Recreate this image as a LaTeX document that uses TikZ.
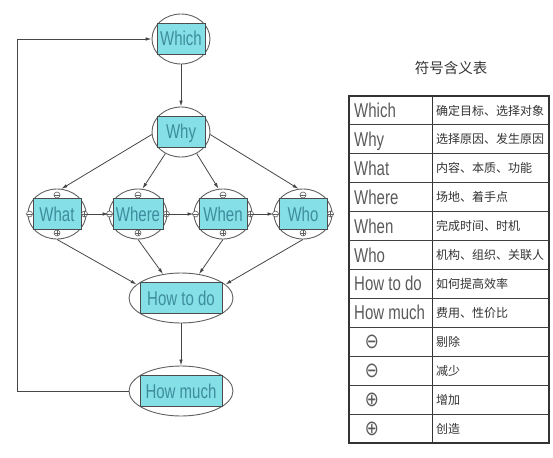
\documentclass[tikz,border=0pt]{standalone}
\usepackage{fontspec}
\setmainfont{Liberation Sans}
\newfontfamily\cadfont[FakeStretch=0.75]{Liberation Sans}
\newfontfamily\cjk{Noto Sans CJK SC}
\newfontfamily\symfont[FakeStretch=0.8]{DejaVu Sans}
\usepackage{xcolor}
\usepackage{tikz}
\usetikzlibrary{
    positioning,
    arrows.meta,
    shapes.geometric
}

\definecolor{boxfill}{RGB}{132,224,230}
\definecolor{boxtext}{RGB}{62,140,158}
\definecolor{rimgray}{RGB}{95,95,95}
\definecolor{linegray}{RGB}{70,70,70}
\definecolor{keygray}{RGB}{90,90,90}

\begin{document}
\begin{tikzpicture}[
    x=1pt, y=-1pt,
    oval/.style={
        ellipse,
        draw=rimgray,
        line width=0.9pt,
        minimum width=58pt,
        minimum height=50pt,
        inner sep=0pt
    },
    wideoval/.style={oval, minimum width=104pt},
    qbox/.style={
        rectangle,
        draw=black!70,
        fill=boxfill,
        text=boxtext,
        font=\cadfont\fontsize{20}{20}\selectfont,
        inner sep=0pt,
        text height=14pt,
        text depth=0pt,
        minimum width=48pt,
        minimum height=31pt
    },
    wideqbox/.style={qbox, minimum width=82pt},
    msym/.style={
        circle, draw=rimgray, fill=white, line width=0.6pt,
        inner sep=0pt, minimum size=6pt,
        path picture={\draw[rimgray, line width=0.5pt]
            (path picture bounding box.west) -- (path picture bounding box.east);}
    },
    psym/.style={
        msym,
        path picture={\draw[rimgray, line width=0.5pt]
            (path picture bounding box.west) -- (path picture bounding box.east)
            (path picture bounding box.north) -- (path picture bounding box.south);}
    },
    keytext/.style={text=keygray, font=\cadfont\fontsize{20}{20}\selectfont, inner sep=0pt},
    valtext/.style={text=black!80, font=\cjk\fontsize{12}{12}\selectfont, inner sep=0pt},
    arrow/.style={-{Latex[length=6pt,width=3.5pt]}, draw=linegray, line width=0.8pt}
]
\useasboundingbox (0,0) rectangle (553,457);

% flow chart
\node[oval] (which) at (181,39) {};
\node[qbox] (whichbox) at (which) {Which};

\node[oval] (why) at (181,132) {};
\node[qbox] (whybox) at (why) {Why};

\node[oval] (what) at (57,214) {};
\node[qbox] (whatbox) at (what) {What};

\node[oval] (where) at (138,214) {};
\node[qbox, minimum width=50pt] (wherebox) at (where) {Where};

\node[oval] (when) at (223,214) {};
\node[qbox] (whenbox) at (when) {When};

\node[oval] (who) at (303,214) {};
\node[qbox] (whobox) at (who) {Who};

\node[wideoval] (htd) at (181,298) {};
\node[wideqbox] (htdbox) at (htd) {How to do};

\node[wideoval] (hmuch) at (181,391) {};
\node[wideqbox] (hmuchbox) at (hmuch) {How much};

\foreach \n in {what,where,when,who} {
    \node[msym, anchor=south] (\n N) at (\n box.north) {};
    \node[msym, anchor=east] (\n W) at (\n box.west) {};
    \node[psym, anchor=west] (\n E) at (\n box.east) {};
    \node[psym, anchor=north] (\n S) at (\n box.south) {};
}

\draw[arrow] (which) -- (why);

\draw[arrow] (why.185) -- (what.80);
\draw[arrow] (why.234) -- (where.80);
\draw[arrow] (why.306) -- (when.100);
\draw[arrow] (why.355) -- (who.100);

\draw[arrow] (what) -- (where);
\draw[arrow] (where) -- (when);
\draw[arrow] (when) -- (who);

\draw[arrow] (what.south) -- (htd.163);
\draw[arrow] (where.south) -- (htd.127);
\draw[arrow] (when.south) -- (htd.53);
\draw[arrow] (who.south) -- (htd.17);

\draw[arrow] (htd) -- (hmuch);

\coordinate (loop) at (17,391);
\draw[arrow] (hmuch) -- (loop) |- (which);

% legend table
\node[font=\cjk\fontsize{14.5}{14.5}\selectfont, text=black!80] (title) at (451,68) {符号含义表};

\draw[line width=1.3pt, draw=black!80] (349,96) rectangle (549,443);
\draw[line width=1pt, draw=black!80] (432,96) -- (432,443);
\foreach \k in {1,...,11}
    \draw[line width=1pt, draw=black!75] (349,{96+28.92*\k}) -- (549,{96+28.92*\k});

\foreach \key/\val [count=\i] in {
    Which/确定目标、选择对象,
    Why/选择原因、发生原因,
    What/内容、本质、功能,
    Where/场地、着手点,
    When/完成时间、时机,
    Who/机构、组织、关联人,
    How to do/如何提高效率,
    How much/费用、性价比} {
    \node[keytext, anchor=base west] (key\i) at (354,{96+28.92*(\i-0.5)+7}) {\key};
    \node[valtext, anchor=base west] (val\i) at (436,{96+28.92*(\i-0.5)+4.6}) {\val};
}

\foreach \sym/\val [count=\i from 9] in {
    ⊖/剔除,
    ⊖/减少,
    ⊕/增加,
    ⊕/创造} {
    \node[text=keygray, font=\symfont\fontsize{21}{21}\selectfont, inner sep=0pt] (key\i)
        at (372,{96+28.92*(\i-0.5)}) {\sym};
    \node[valtext, anchor=base west] (val\i) at (436,{96+28.92*(\i-0.5)+4.6}) {\val};
}

\end{tikzpicture}
\end{document}
